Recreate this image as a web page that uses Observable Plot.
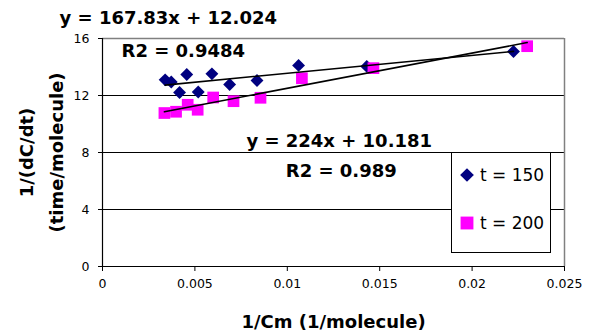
<!DOCTYPE html>
<html><head><meta charset="utf-8">
<script src="https://cdn.jsdelivr.net/npm/d3@7"></script>
<script src="https://cdn.jsdelivr.net/npm/@observablehq/plot@0.6"></script>
<style>body{margin:0;background:#fff} #chart{width:594px;height:334px}</style>
</head><body><div id="chart"></div>
<script>
// ---- data ----
const seriesNames = ["t = 150", "t = 200"];
const t150X = [0.00339, 0.00372, 0.00417, 0.00456, 0.00518, 0.00592, 0.00688, 0.00836, 0.01061, 0.01430, 0.02224];
const t150Y = [13.10, 12.95, 12.21, 13.47, 12.25, 13.52, 12.77, 13.05, 14.11, 14.04, 15.09];
const t200X = [0.00335, 0.00398, 0.00461, 0.00515, 0.00599, 0.00709, 0.00855, 0.01079, 0.01466, 0.02298];
const t200Y = [10.77, 10.86, 11.35, 11.00, 11.86, 11.60, 11.84, 13.21, 13.92, 15.46];
const equations = ["y = 167.83x + 12.024", "y = 224x + 10.181"];
const r2Labels = ["R2 = 0.9484", "R2 = 0.989"];
const xTicks = [0, 0.005, 0.01, 0.015, 0.02, 0.025];
const xTickLabels = ["0", "0.005", "0.01", "0.015", "0.02", "0.025"];
const yTicks = [0, 4, 8, 12, 16];
const xTitle = "1/Cm (1/molecule)";
const yTitle = ["1/(dC/dt)", "(time/molecule)"];

const s150 = t150X.map((x, i) => ({x, y: t150Y[i]}));
const s200 = t200X.map((x, i) => ({x, y: t200Y[i]}));

const FONT = "DejaVu Sans";
const bold = {fontFamily: FONT, fontWeight: "bold", fontSize: 18, fill: "#000", textAnchor: "middle", lineAnchor: "middle"};

const plot = Plot.plot({
  width: 594, height: 334,
  marginLeft: 102, marginRight: 30, marginTop: 38, marginBottom: 68,
  style: {fontFamily: FONT, fontSize: "12.5px", background: "#fff", color: "#000", overflow: "visible"},
  x: {domain: [0, 0.025], label: null},
  y: {domain: [0, 16], label: null},
  marks: [
    Plot.gridY(yTicks.filter(d => d > 0 && d < 16), {stroke: "#000", strokeOpacity: 1, strokeWidth: 1}),
    Plot.ruleY([16], {stroke: "#808080", strokeWidth: 1.5}),
    Plot.ruleX([0.025], {stroke: "#808080", strokeWidth: 1.5}),
    Plot.axisX({ticks: xTicks, tickFormat: d => xTickLabels[xTicks.indexOf(d)], tickSize: 5, tickPadding: 8, label: null, fontSize: 12.5}),
    Plot.axisY({ticks: yTicks, tickSize: 4, tickPadding: 9, label: null, fontSize: 12.5}),
    Plot.ruleX([0], {stroke: "#000", strokeWidth: 1.2}),
    Plot.ruleY([0], {stroke: "#000", strokeWidth: 1.2}),
    Plot.dot(s150, {x: "x", y: "y", symbol: "diamond2", r: 5.8, fill: "#000080", stroke: "none"}),
    Plot.dot(s200, {x: "x", y: "y", symbol: "square", r: 6.6, fill: "#ff00ff", stroke: "none"}),
    Plot.linearRegressionY(s150, {x: "x", y: "y", stroke: "#000", strokeWidth: 1.6, ci: 0}),
    Plot.linearRegressionY(s200, {x: "x", y: "y", stroke: "#000", strokeWidth: 1.6, ci: 0}),
    Plot.text([equations[0]], {x: 0.00356, y: 17.40, ...bold}),
    Plot.text([r2Labels[0]], {x: 0.00437, y: 15.09, ...bold}),
    Plot.text([equations[1]], {x: 0.01281, y: 8.77, ...bold}),
    Plot.text([r2Labels[1]], {x: 0.01292, y: 6.67, ...bold}),
    Plot.text([xTitle], {frameAnchor: "bottom", dy: 56, ...bold}),
    Plot.text([yTitle[0]], {frameAnchor: "left", dx: -75, rotate: -90, ...bold}),
    Plot.text([yTitle[1]], {frameAnchor: "left", dx: -45, rotate: -90, ...bold})
  ]
});

// legend box (drawn on top, like the reference)
const svg = d3.select(plot);
const g = svg.append("g").attr("text-anchor", "start");
g.append("rect").attr("x", 451.5).attr("y", 152.5).attr("width", 99).attr("height", 100)
  .attr("fill", "#fff").attr("stroke", "#000").attr("stroke-width", 1);
const items = [
  {name: seriesNames[0], sym: d3.symbolDiamond2, size: 120, color: "#000080", cy: 175},
  {name: seriesNames[1], sym: d3.symbolSquare, size: 165, color: "#ff00ff", cy: 223}
];
for (const it of items) {
  g.append("path").attr("d", d3.symbol(it.sym, it.size)()).attr("transform", `translate(467,${it.cy})`).attr("fill", it.color);
  g.append("text").attr("x", 480).attr("y", it.cy).attr("dy", "0.36em").attr("text-anchor", "start")
    .attr("font-family", FONT).attr("font-size", 17).attr("fill", "#000").text(it.name);
}
document.getElementById("chart").append(plot);
</script>
</body></html>
